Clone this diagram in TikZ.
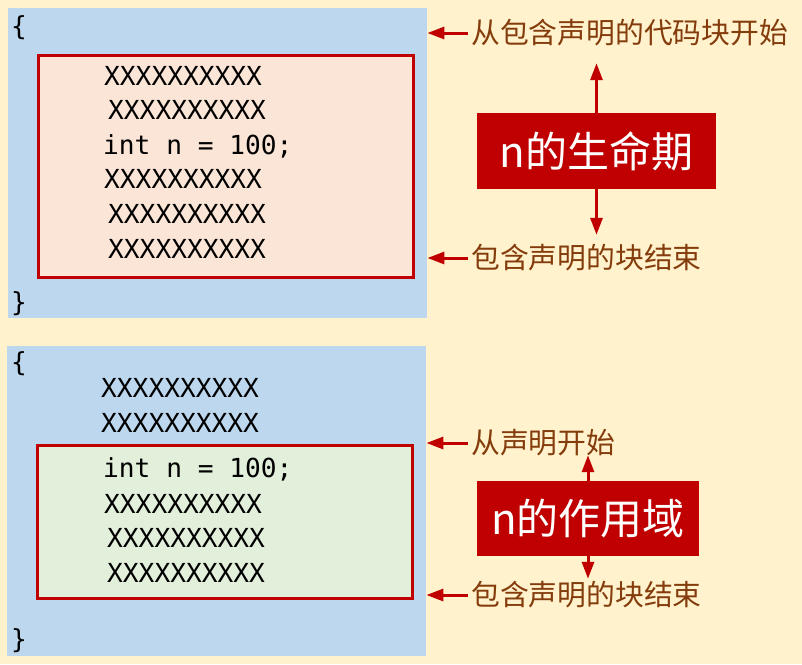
\documentclass[tikz,border=0pt]{standalone}
\usepackage{fontspec}
\newfontfamily\cjkfont{Noto Sans CJK SC}
\newfontfamily\codefont{DejaVu Sans Mono}
\usepackage{xcolor}
\usetikzlibrary{arrows.meta,positioning}

\definecolor{paper}{HTML}{FFF2CC}
\definecolor{codeblue}{HTML}{BDD7EE}
\definecolor{lifefill}{HTML}{FBE5D6}
\definecolor{scopefill}{HTML}{E2EFDA}
\definecolor{tagred}{HTML}{C00000}
\definecolor{notebrown}{HTML}{843C0C}

\begin{document}
\begin{tikzpicture}[
    x=1pt, y=-1pt,
    blockbg/.style={rectangle, fill=codeblue, inner sep=0pt, anchor=north west},
    region/.style={rectangle, draw=tagred, line width=3pt, inner sep=0pt, anchor=north west},
    code/.style={anchor=base west, inner sep=0pt, font=\codefont\fontsize{26.2pt}{30pt}\selectfont},
    note/.style={anchor=west, inner sep=0pt, text height=22pt, text depth=2pt,
      text=notebrown, font=\cjkfont\fontsize{28.8pt}{32pt}\selectfont},
    tag/.style={rectangle, fill=tagred, text=white, inner sep=0pt,
      font=\cjkfont\fontsize{42pt}{46pt}\selectfont},
    arrow/.style={-{Triangle[length=17pt,width=12pt]}, line width=3pt, draw=tagred}
  ]
  \fill[paper] (0,0) rectangle (802,664);

  % lifetime
  \node[blockbg, minimum width=419pt, minimum height=310pt] (blk1) at (8,8) {};
  \node[region, fill=lifefill, minimum width=375pt, minimum height=222pt] (reg1) at (36.5,53.5) {};
  \node[code] (open1)  at (11,35)  {\{};
  \node[code] (close1) at (11,311) {\}};
  \node[code] (l11) at (104,85)  {XXXXXXXXXX};
  \node[code] (l12) at (108,119) {XXXXXXXXXX};
  \node[code] (l13) at (103,154) {int n = 100;};
  \node[code] (l14) at (104,188) {XXXXXXXXXX};
  \node[code] (l15) at (108,223) {XXXXXXXXXX};
  \node[code] (l16) at (108,258) {XXXXXXXXXX};

  \node[note] (from1) at (471,33)  {从包含声明的代码块开始};
  \node[note] (end1)  at (471,258) {包含声明的块结束};
  \node[tag, minimum width=239pt, minimum height=76pt] (life) at (596.5,151) {n的生命期};

  \draw[arrow, shorten <=3pt] (from1.west) -- (from1.west -| blk1.east);
  \draw[arrow, shorten <=3pt] (end1.west) -- (end1.west -| blk1.east);
  \draw[arrow, shorten >=18pt] (life.north) -- (life.north |- from1.south);
  \draw[arrow, shorten >=11pt] (life.south) -- (life.south |- end1.north);

  % scope
  \node[blockbg, minimum width=419pt, minimum height=310pt] (blk2) at (7,346) {};
  \node[region, fill=scopefill, minimum width=375pt, minimum height=153pt] (reg2) at (35.5,443.5) {};
  \node[code] (open2)  at (11,371) {\{};
  \node[code] (close2) at (11,648) {\}};
  \node[code] (l21) at (101,397) {XXXXXXXXXX};
  \node[code] (l22) at (101,432) {XXXXXXXXXX};
  \node[code] (l23) at (103,477) {int n = 100;};
  \node[code] (l24) at (104,513) {XXXXXXXXXX};
  \node[code] (l25) at (107,547) {XXXXXXXXXX};
  \node[code] (l26) at (107,582) {XXXXXXXXXX};

  \node[note] (from2) at (471,443) {从声明开始};
  \node[note] (end2)  at (471,595) {包含声明的块结束};
  \node[tag, minimum width=222pt, minimum height=75pt] (scope) at (588,518.5) {n的作用域};

  \draw[arrow, shorten <=3pt] (from2.west) -- (from2.west -| blk2.east);
  \draw[arrow, shorten <=3pt] (end2.west) -- (end2.west -| blk2.east);
  \draw[arrow] (scope.north) -- (scope.north |- from2.south);
  \draw[arrow, shorten >=4pt] (scope.south) -- (scope.south |- end2.north);
\end{tikzpicture}
\end{document}
